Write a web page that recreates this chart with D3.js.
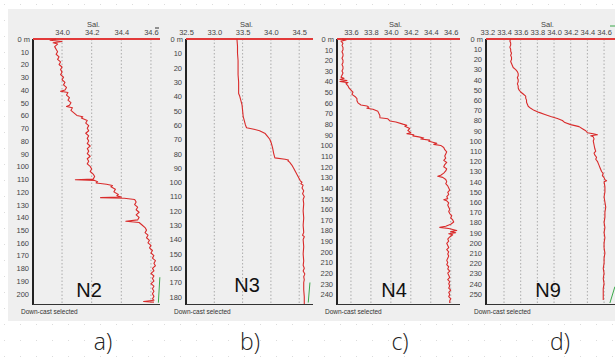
<!DOCTYPE html>
<html>
<head>
<meta charset="utf-8">
<script src="https://cdn.jsdelivr.net/npm/d3@7"></script>
<style>
  body { margin: 0; background: #fff; }
  svg { display: block; }
  text { font-family: "Liberation Sans", Arial, sans-serif; }
</style>
</head>
<body>
<div id="chart"></div>
<script>
// ---- data: [depth m, salinity] ----
var stationNames = ["N2", "N3", "N4", "N9"];
var panelLetters = ["a)", "b)", "c)", "d)"];

var profileN2 = [[0,33.96],[1,33.92],[2,34.00],[3,33.94],[4,33.97],[6,33.95],[8,33.96],[10,33.97],[12,33.96],[14,33.98],[16,33.97],[18,33.99],[20,33.98],[22,34.00],[24,33.99],[26,34.00],[28,33.99],[30,34.01],[32,34.00],[34,34.02],[36,34.01],[38,34.03],[40,34.02],[41,33.99],[42,34.04],[44,34.03],[46,34.05],[48,34.04],[50,34.06],[52,34.05],[53,34.03],[54,34.07],[56,34.06],[58,34.08],[60,34.10],[61,34.14],[62,34.13],[64,34.17],[66,34.16],[68,34.18],[70,34.17],[72,34.18],[74,34.16],[76,34.18],[78,34.17],[80,34.18],[82,34.17],[84,34.19],[86,34.17],[88,34.18],[90,34.17],[92,34.19],[94,34.17],[96,34.18],[98,34.17],[100,34.19],[102,34.20],[104,34.19],[106,34.21],[108,34.22],[110,34.21],[110.5,34.09],[111,34.22],[112,34.24],[113,34.23],[114,34.30],[115,34.34],[116,34.33],[118,34.36],[120,34.35],[122,34.38],[123,34.37],[124,34.40],[124.5,34.26],[125,34.42],[126,34.49],[128,34.50],[130,34.49],[132,34.51],[134,34.50],[136,34.52],[138,34.50],[140,34.52],[142,34.51],[143,34.43],[144,34.52],[146,34.54],[148,34.56],[150,34.57],[152,34.56],[154,34.58],[156,34.57],[158,34.59],[160,34.58],[162,34.60],[164,34.59],[166,34.61],[168,34.60],[170,34.62],[172,34.61],[174,34.63],[176,34.62],[178,34.63],[180,34.61],[182,34.62],[184,34.60],[186,34.62],[188,34.61],[190,34.62],[192,34.60],[194,34.62],[196,34.61],[198,34.62],[200,34.61],[202,34.62],[204,34.61],[205,34.62],[206,34.55],[206.5,34.62]];

var profileN3 = [[0,33.40],[5,33.41],[10,33.41],[15,33.42],[20,33.42],[25,33.42],[30,33.43],[35,33.43],[38,33.43],[40,33.45],[43,33.47],[46,33.49],[50,33.50],[54,33.51],[57,33.53],[60,33.55],[62,33.57],[63,33.70],[64,33.80],[66,33.90],[68,33.94],[70,33.98],[73,34.01],[76,34.03],[80,34.05],[83,34.07],[84,34.25],[84.5,34.31],[85,34.30],[86,34.33],[88,34.37],[90,34.40],[93,34.44],[96,34.48],[99,34.52],[100,34.55],[101,34.53],[102,34.57],[104,34.55],[106,34.58],[108,34.56],[110,34.59],[112,34.57],[115,34.58],[120,34.57],[125,34.58],[130,34.57],[135,34.58],[137,34.56],[138,34.59],[140,34.57],[145,34.58],[150,34.57],[155,34.58],[158,34.57],[160,34.59],[162,34.57],[164,34.60],[166,34.58],[168,34.59],[170,34.58],[175,34.58],[180,34.59],[185,34.59]];

var profileN4 = [[0,33.51],[1,33.55],[2,33.50],[4,33.52],[6,33.51],[8,33.52],[10,33.52],[12,33.51],[14,33.52],[16,33.52],[18,33.51],[20,33.52],[22,33.52],[24,33.51],[26,33.52],[28,33.52],[30,33.51],[32,33.52],[34,33.51],[36,33.50],[37,33.53],[38,33.49],[39,33.56],[40,33.49],[41,33.57],[42,33.55],[44,33.57],[46,33.58],[48,33.60],[50,33.62],[52,33.61],[54,33.64],[56,33.66],[58,33.66],[60,33.67],[62,33.70],[63,33.76],[64,33.78],[65,33.76],[66,33.82],[68,33.87],[70,33.88],[72,33.89],[74,33.89],[75,33.97],[76,33.98],[77,33.99],[78,34.05],[80,34.12],[81,34.16],[82,34.14],[84,34.19],[86,34.17],[88,34.20],[89,34.16],[90,34.23],[91,34.22],[92,34.28],[93,34.33],[94,34.30],[95,34.39],[96,34.38],[98,34.46],[99,34.43],[100,34.50],[102,34.53],[104,34.54],[106,34.56],[108,34.55],[110,34.54],[112,34.55],[114,34.53],[116,34.56],[118,34.54],[120,34.53],[122,34.56],[124,34.55],[126,34.53],[128,34.50],[129,34.47],[130,34.52],[132,34.55],[134,34.56],[136,34.55],[138,34.57],[140,34.58],[142,34.59],[144,34.57],[146,34.58],[148,34.56],[150,34.57],[151,34.53],[152,34.56],[154,34.58],[156,34.57],[158,34.58],[160,34.59],[162,34.58],[164,34.59],[166,34.61],[168,34.60],[170,34.62],[172,34.63],[174,34.60],[176,34.55],[177,34.49],[178,34.58],[179,34.62],[180,34.66],[181,34.60],[182,34.65],[183,34.58],[184,34.62],[186,34.59],[188,34.57],[190,34.58],[192,34.56],[194,34.57],[196,34.58],[198,34.56],[200,34.58],[202,34.57],[204,34.58],[206,34.57],[208,34.56],[210,34.57],[212,34.56],[214,34.58],[216,34.57],[218,34.59],[220,34.57],[222,34.58],[224,34.59],[226,34.57],[228,34.59],[230,34.58],[232,34.59],[234,34.58],[236,34.60],[238,34.58],[240,34.59],[242,34.58],[244,34.60],[246,34.59],[248,34.59]];

var profileN9 = [[0,33.48],[2,33.47],[4,33.48],[6,33.48],[8,33.47],[10,33.48],[12,33.48],[14,33.49],[16,33.48],[18,33.49],[20,33.49],[22,33.48],[24,33.49],[26,33.50],[28,33.51],[30,33.54],[32,33.56],[34,33.57],[36,33.57],[38,33.56],[40,33.57],[42,33.57],[44,33.56],[46,33.57],[48,33.57],[50,33.58],[52,33.60],[54,33.63],[56,33.66],[58,33.66],[60,33.67],[62,33.67],[64,33.68],[66,33.69],[68,33.72],[70,33.76],[72,33.82],[74,33.89],[76,33.96],[78,34.04],[80,34.10],[82,34.13],[84,34.20],[86,34.30],[88,34.34],[90,34.38],[92,34.40],[93,34.47],[94,34.52],[95,34.44],[96,34.47],[98,34.48],[100,34.47],[104,34.48],[108,34.49],[110,34.50],[112,34.48],[114,34.49],[116,34.51],[118,34.50],[120,34.52],[122,34.53],[124,34.54],[126,34.55],[128,34.56],[130,34.57],[132,34.59],[134,34.58],[136,34.60],[138,34.61],[139,34.63],[140,34.60],[145,34.61],[150,34.61],[155,34.60],[160,34.61],[165,34.62],[170,34.61],[175,34.61],[180,34.60],[185,34.61],[190,34.60],[195,34.61],[200,34.60],[205,34.60],[210,34.61],[215,34.60],[220,34.60],[225,34.59],[230,34.60],[235,34.59],[240,34.60],[245,34.59],[250,34.59],[256,34.59]];

// short green trace visible at the bottom-right edge
var greenN2 = [[187,34.66],[207,34.65]];
var greenN3 = [[170,34.69],[184,34.66]];
var greenN4 = [];
var greenN9 = [[243,34.73],[259,34.67]];

var salTicksN2 = [34.0, 34.2, 34.4, 34.6];
var salTicksN3 = [32.5, 33.0, 33.5, 34.0, 34.5];
var salTicksN4 = [33.6, 33.8, 34.0, 34.2, 34.4, 34.6];
var salTicksN9 = [33.2, 33.4, 33.6, 33.8, 34.0, 34.2, 34.4, 34.6];

var salDomains = [[33.804, 34.661], [32.5, 34.744], [33.46, 34.693], [33.184, 34.731]];
var depthMax = [208, 185, 249, 260];

// ---- layout ----
var W = 615, H = 358;
var plotTop = 39, plotBottom = 304;
var panelX = [[33, 160], [186, 313], [337, 460], [486, 615]];
var nameX = [89, 247, 394, 548], nameY = [297, 292, 297, 297];
var letterX = [103, 250, 400, 560];

var profiles = [profileN2, profileN3, profileN4, profileN9];
var greens = [greenN2, greenN3, greenN4, greenN9];
var salTicks = [salTicksN2, salTicksN3, salTicksN4, salTicksN9];

var svg = d3.select("#chart").append("svg")
    .attr("width", W).attr("height", H);

// dotted page background
var pat = svg.append("defs").append("pattern")
    .attr("id", "dots").attr("width", 16).attr("height", 16)
    .attr("patternUnits", "userSpaceOnUse");
pat.append("rect").attr("x", 4).attr("y", 4).attr("width", 1).attr("height", 1).attr("fill", "#dcdcdc");
svg.append("rect").attr("width", W).attr("height", H).attr("fill", "url(#dots)");

// grey window area
svg.append("rect").attr("x", 8).attr("y", 9).attr("width", W - 8).attr("height", 312)
    .attr("fill", "#efefef");

stationNames.forEach(function (name, i) {
    var x = d3.scaleLinear().domain(salDomains[i]).range(panelX[i]);
    var y = d3.scaleLinear().domain([0, depthMax[i]]).range([plotTop, plotBottom]);
    var g = svg.append("g");

    // vertical dotted grid lines
    g.selectAll(".grid").data(salTicks[i].filter(function (t) { return x(t) > panelX[i][0] + 2; }))
        .enter().append("line")
        .attr("x1", function (d) { return x(d); }).attr("x2", function (d) { return x(d); })
        .attr("y1", plotTop).attr("y2", plotBottom)
        .attr("stroke", "#9a9a9a").attr("stroke-width", 0.8).attr("stroke-dasharray", "1.5,2");

    // top axis labels
    var xAxis = d3.axisTop(x).tickValues(salTicks[i]).tickSize(0).tickPadding(0).tickFormat(d3.format(".1f"));
    var ax = g.append("g").attr("transform", "translate(0,35)").call(xAxis);
    ax.select(".domain").remove();
    ax.selectAll("text").attr("font-size", 7.5).attr("fill", "#444").attr("font-family", "Liberation Sans, Arial");

    g.append("text").attr("x", d3.mean(panelX[i]) - 3).attr("y", 27)
        .attr("text-anchor", "middle").attr("font-size", 7.5).attr("fill", "#444").text("Sal.");

    // depth axis
    var depthTicks = d3.range(10, depthMax[i], 10);
    var yAxis = d3.axisLeft(y).tickValues(depthTicks).tickSize(0).tickPadding(4);
    var ay = g.append("g").attr("transform", "translate(" + panelX[i][0] + ",0)").call(yAxis);
    ay.select(".domain").remove();
    ay.selectAll("text").attr("font-size", 7.5).attr("fill", "#444").attr("font-family", "Liberation Sans, Arial");
    g.append("text").attr("x", panelX[i][0] - 3).attr("y", y(0) + 2.5)
        .attr("text-anchor", "end").attr("font-size", 7.5).attr("fill", "#444").text("0 m");

    // frame: left and bottom axis lines
    g.append("line").attr("x1", panelX[i][0]).attr("x2", panelX[i][0])
        .attr("y1", plotTop).attr("y2", plotBottom + 1)
        .attr("stroke", "#222").attr("stroke-width", 2);
    g.append("line").attr("x1", panelX[i][0]).attr("x2", panelX[i][1])
        .attr("y1", plotBottom + 0.5).attr("y2", plotBottom + 0.5)
        .attr("stroke", "#333").attr("stroke-width", 1.2);

    // surface line at 0 m
    g.append("line").attr("x1", panelX[i][0]).attr("x2", panelX[i][1])
        .attr("y1", y(0)).attr("y2", y(0))
        .attr("stroke", "#e23a3a").attr("stroke-width", 2);

    var line = d3.line()
        .x(function (d) { return x(d[1]); })
        .y(function (d) { return y(d[0]); });

    if (greens[i].length) {
        g.append("path").datum(greens[i]).attr("d", line)
            .attr("fill", "none").attr("stroke", "#3aa84a").attr("stroke-width", 1);
    }

    g.append("path").datum(profiles[i]).attr("d", line)
        .attr("fill", "none").attr("stroke", "#d92b2b").attr("stroke-width", 1.1)
        .attr("stroke-linejoin", "round");

    // station name
    g.append("text").attr("x", nameX[i]).attr("y", nameY[i])
        .attr("text-anchor", "middle").attr("font-size", 20).attr("fill", "#111").text(name);

    g.append("text").attr("x", panelX[i][0] - 12).attr("y", 313.5)
        .attr("font-size", 6.5).attr("fill", "#333").text("Down-cast selected");

    svg.append("text").attr("x", letterX[i]).attr("y", 350)
        .attr("text-anchor", "middle").attr("font-size", 23).attr("font-weight", 300)
        .attr("fill", "#222").style("font-family", "'Open Sans', 'Noto Sans', sans-serif")
        .text(panelLetters[i]);
});

// small marks at the top right corners
svg.append("line").attr("x1", 155).attr("x2", 159).attr("y1", 28).attr("y2", 28).attr("stroke", "#333");
svg.append("line").attr("x1", 610).attr("x2", 615).attr("y1", 26).attr("y2", 26).attr("stroke", "#3aa84a");
</script>
</body>
</html>
